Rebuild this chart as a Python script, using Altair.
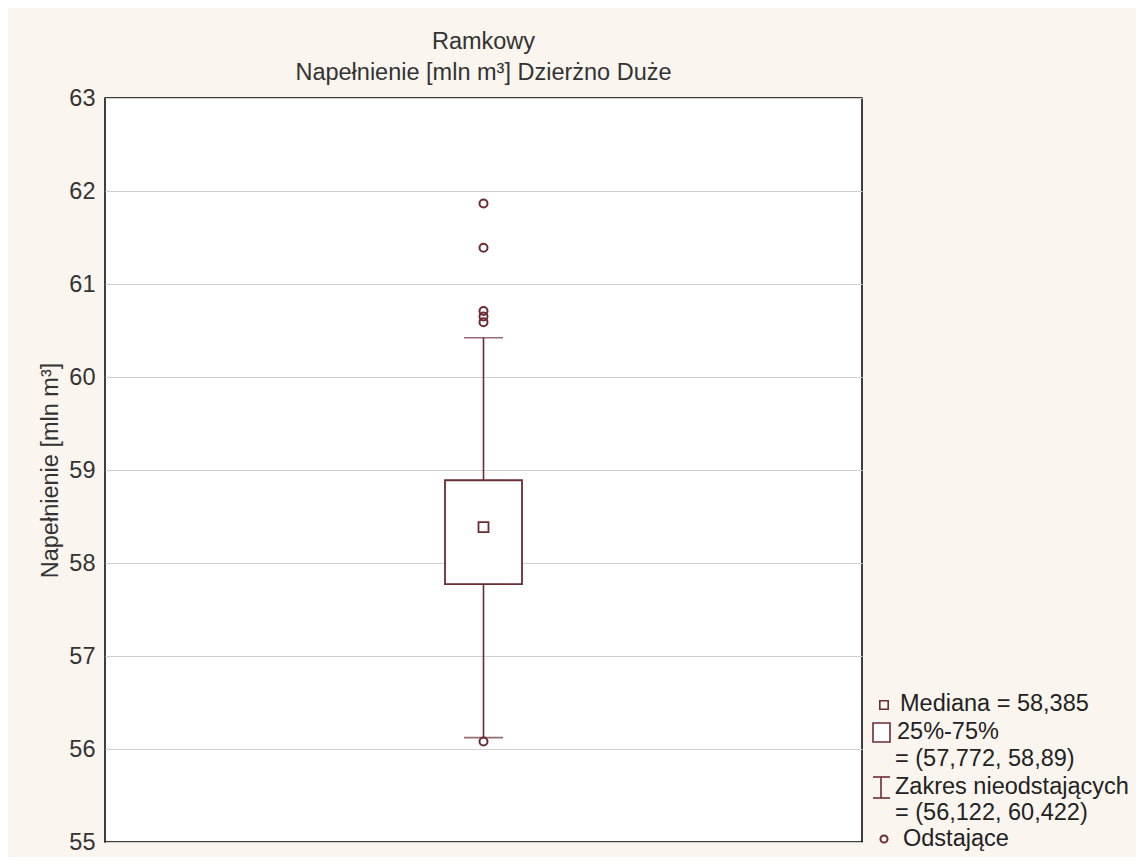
import altair as alt
import pandas as pd

# ---- data ----
categories = ["Dzierżno Duże"]
medians = [58.385]
q1_values = [57.772]
q3_values = [58.89]
whisker_low = [56.122]
whisker_high = [60.422]
outlier_values = [61.865, 61.39, 60.71, 60.65, 60.59, 56.08]
y_ticks = [55, 56, 57, 58, 59, 60, 61, 62, 63]
legend_labels = [
    "Mediana = 58,385",
    "25%-75%",
    "= (57,772, 58,89)",
    "Zakres nieodstających",
    "= (56,122, 60,422)",
    "Odstające",
]
title_lines = ["Ramkowy", "Napełnienie [mln m³] Dzierżno Duże"]
y_title = "Napełnienie [mln m³]"

# ---- styling / layout ----
MAROON = "#6B2C36"
FONT = "Liberation Sans"
TEXT = "#333333"
FS = 23.5
W, H = 757, 744

box_df = pd.DataFrame({
    "cat": categories, "median": medians, "q1": q1_values, "q3": q3_values,
    "lo": whisker_low, "hi": whisker_high,
})
out_df = pd.DataFrame({"cat": categories * len(outlier_values), "value": outlier_values})

x_enc = alt.X("cat:N", axis=None, scale=alt.Scale(paddingInner=0, paddingOuter=0))
y_scale = alt.Scale(domain=[55, 63], nice=False, zero=False)
y_axis = alt.Axis(
    values=y_ticks, title=y_title, grid=True, gridColor="#CFCFCF", gridWidth=1,
    domain=False, ticks=False, labelPadding=10, labelFont=FONT, labelFontSize=FS,
    labelColor=TEXT, titleFont=FONT, titleFontSize=FS, titleFontWeight="normal",
    titleColor=TEXT, titlePadding=6, format="d",
)

base = alt.Chart(box_df)
whisker = base.mark_rule(color=MAROON, strokeWidth=1.6).encode(
    x=x_enc, y=alt.Y("lo:Q", scale=y_scale, axis=y_axis), y2="hi:Q")
box = base.mark_bar(size=77, fill="white", stroke=MAROON, strokeWidth=1.8).encode(
    x=x_enc, y=alt.Y("q1:Q"), y2="q3:Q")
cap_lo = base.mark_tick(size=39, thickness=1.6, color=MAROON).encode(x=x_enc, y="lo:Q")
cap_hi = base.mark_tick(size=39, thickness=1.6, color=MAROON).encode(x=x_enc, y="hi:Q")
median = base.mark_point(shape="square", size=100, filled=False, color=MAROON,
                         strokeWidth=1.8, opacity=1).encode(x=x_enc, y="median:Q")
outl = alt.Chart(out_df).mark_point(shape="circle", size=64, filled=False, color=MAROON,
                                    strokeWidth=2, opacity=1).encode(x=x_enc, y="value:Q")

# ---- custom legend (outside the plot, right) ----
one = pd.DataFrame({"k": [0]})
text_x = [795, 792, 790, 790, 790, 798]
text_y = [606, 634, 661, 689, 715, 741]
legend_layers = []
for lbl, tx, ty in zip(legend_labels, text_x, text_y):
    legend_layers.append(
        alt.Chart(pd.DataFrame({"label": [lbl]})).mark_text(
            align="left", baseline="middle", font=FONT, fontSize=FS, color="#222222"
        ).encode(x=alt.value(tx), y=alt.value(ty), text="label:N")
    )
sym_med = alt.Chart(one).mark_point(shape="square", size=70, filled=False, color=MAROON,
                                    strokeWidth=1.6, opacity=1).encode(
    x=alt.value(779), y=alt.value(607))
sym_box = alt.Chart(one).mark_rect(fill="white", stroke=MAROON, strokeWidth=1.6).encode(
    x=alt.value(768), x2=alt.value(785), y=alt.value(625), y2=alt.value(644))
sym_wh = alt.Chart(one).mark_rule(color=MAROON, strokeWidth=1.6).encode(
    x=alt.value(776), y=alt.value(679), y2=alt.value(700))
sym_cap1 = alt.Chart(one).mark_rule(color=MAROON, strokeWidth=1.6).encode(
    x=alt.value(768), x2=alt.value(785), y=alt.value(679))
sym_cap2 = alt.Chart(one).mark_rule(color=MAROON, strokeWidth=1.6).encode(
    x=alt.value(768), x2=alt.value(785), y=alt.value(700))
sym_out = alt.Chart(one).mark_point(shape="circle", size=50, filled=False, color=MAROON,
                                    strokeWidth=2, opacity=1).encode(
    x=alt.value(779), y=alt.value(741))

chart = alt.layer(
    whisker, cap_lo, cap_hi, box, median, outl,
    *legend_layers, sym_med, sym_box, sym_wh, sym_cap1, sym_cap2, sym_out,
).properties(
    width=W, height=H,
    title=alt.TitleParams(text=title_lines, font=FONT, fontSize=FS, fontWeight="normal",
                          color=TEXT, anchor="middle", lineHeight=31, offset=2),
    autosize=alt.AutoSizeParams(type="none"),
    padding={"left": 97, "top": 90, "right": 274, "bottom": 15},
).configure(background="#FBF5F0").configure_view(
    fill="white", stroke="black", strokeWidth=1.5
)

chart.save("out.html", embed_options={"renderer": "svg", "actions": False})
